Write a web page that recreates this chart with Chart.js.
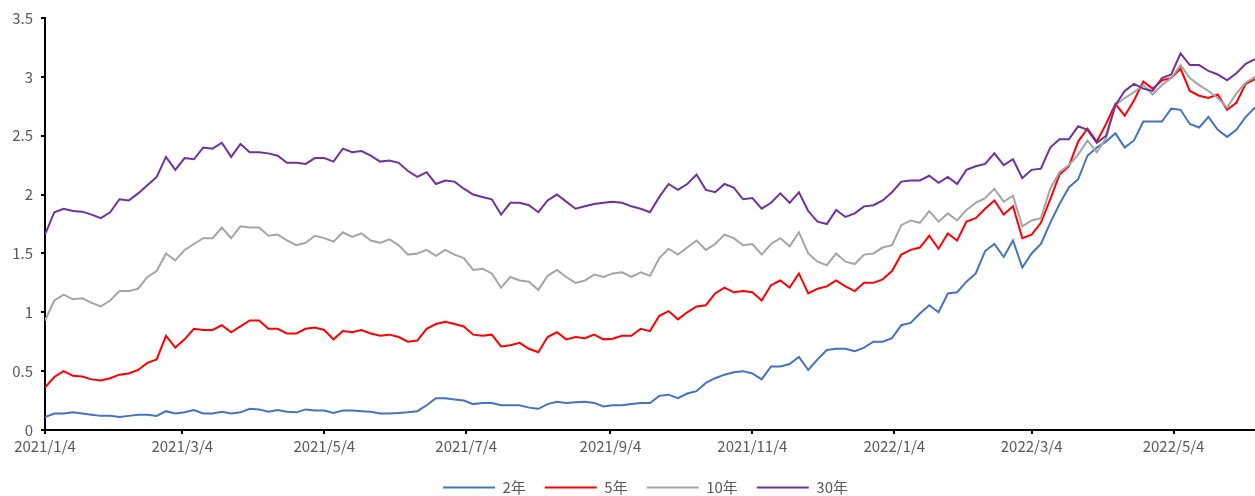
<!DOCTYPE html>
<html>
<head>
<meta charset="utf-8">
<script src="https://cdn.jsdelivr.net/npm/chart.js@4.4.0/dist/chart.umd.min.js"></script>
<style>
  html, body { margin: 0; padding: 0; background: #fff; }
  #wrap { width: 1255px; height: 496px; }
</style>
</head>
<body>
<div id="wrap"><canvas id="chart"></canvas></div>
<script>
// readings taken every 4 calendar days starting 2021/1/4
const startDate = '2021/1/4';
const endDate = '2022/6/8';
const stepDays = 4;

const seriesNames = ['2年', '5年', '10年', '30年'];
const seriesColors = ['#4472C4', '#FF0000', '#A5A5A5', '#7030A0'];

const y2 = [
  0.11, 0.14, 0.14, 0.15, 0.14, 0.13, 0.12, 0.12, 0.11, 0.12, 0.13, 0.13, 0.12, 0.16, 0.14, 0.15, 0.17, 0.14, 0.14, 0.155, 0.14, 0.15, 0.18,
  0.175, 0.155, 0.17, 0.155, 0.15, 0.175, 0.165, 0.165, 0.145, 0.165, 0.165, 0.16, 0.155, 0.14, 0.14, 0.145, 0.15, 0.16, 0.21, 0.27, 0.27, 0.26,
  0.25, 0.22, 0.23, 0.23, 0.21, 0.21, 0.21, 0.19, 0.18, 0.22, 0.24, 0.23, 0.235, 0.24, 0.23, 0.20, 0.21, 0.21, 0.22, 0.23, 0.23,
  0.29, 0.30, 0.27, 0.31, 0.33, 0.40, 0.44, 0.47, 0.49, 0.50, 0.48, 0.43, 0.54, 0.54, 0.56, 0.62, 0.51, 0.60, 0.68, 0.69, 0.69, 0.67, 0.70,
  0.75, 0.75, 0.78, 0.89, 0.91, 0.99, 1.06, 1.00, 1.16, 1.17, 1.26, 1.33, 1.52, 1.58, 1.47, 1.61, 1.38, 1.50, 1.58, 1.76, 1.92, 2.06,
  2.13, 2.33, 2.40, 2.45, 2.52, 2.40, 2.46, 2.62, 2.62, 2.62, 2.73, 2.72, 2.60, 2.57, 2.66, 2.55, 2.49, 2.55, 2.66, 2.74
];
const y5 = [
  0.36, 0.45, 0.50, 0.46, 0.455, 0.43, 0.42, 0.44, 0.47, 0.48, 0.51, 0.57, 0.60, 0.80, 0.70, 0.77, 0.86, 0.85, 0.85, 0.89, 0.83, 0.88, 0.93,
  0.93, 0.86, 0.86, 0.82, 0.82, 0.86, 0.87, 0.85, 0.77, 0.84, 0.83, 0.85, 0.82, 0.80, 0.81, 0.79, 0.75, 0.76, 0.86, 0.90, 0.92, 0.90,
  0.88, 0.81, 0.80, 0.81, 0.71, 0.72, 0.74, 0.69, 0.66, 0.79, 0.83, 0.77, 0.79, 0.78, 0.81, 0.77, 0.775, 0.80, 0.80, 0.86, 0.84,
  0.97, 1.01, 0.94, 1.00, 1.05, 1.06, 1.16, 1.21, 1.17, 1.18, 1.17, 1.10, 1.23, 1.27, 1.21, 1.33, 1.16, 1.20, 1.22, 1.27, 1.22, 1.18, 1.25,
  1.25, 1.28, 1.35, 1.49, 1.53, 1.55, 1.65, 1.54, 1.67, 1.61, 1.77, 1.80, 1.88, 1.95, 1.83, 1.90, 1.63, 1.66, 1.76, 1.96, 2.17, 2.24,
  2.45, 2.56, 2.45, 2.60, 2.77, 2.67, 2.80, 2.96, 2.90, 2.97, 2.99, 3.07, 2.88, 2.84, 2.82, 2.85, 2.72, 2.78, 2.94, 2.98
];
const y10 = [
  0.93, 1.10, 1.15, 1.11, 1.12, 1.08, 1.05, 1.10, 1.18, 1.18, 1.20, 1.30, 1.35, 1.50, 1.44, 1.53, 1.58, 1.63, 1.63, 1.72, 1.63, 1.73, 1.72,
  1.72, 1.65, 1.66, 1.61, 1.57, 1.59, 1.65, 1.63, 1.60, 1.68, 1.64, 1.67, 1.61, 1.59, 1.62, 1.57, 1.49, 1.50, 1.53, 1.48, 1.53, 1.49,
  1.46, 1.36, 1.37, 1.33, 1.21, 1.30, 1.27, 1.26, 1.19, 1.31, 1.36, 1.30, 1.25, 1.27, 1.32, 1.30, 1.33, 1.34, 1.30, 1.34, 1.31,
  1.46, 1.54, 1.49, 1.55, 1.61, 1.53, 1.58, 1.66, 1.63, 1.57, 1.58, 1.49, 1.58, 1.63, 1.56, 1.68, 1.50, 1.43, 1.40, 1.50, 1.43, 1.41, 1.49,
  1.50, 1.55, 1.57, 1.74, 1.78, 1.76, 1.86, 1.77, 1.84, 1.78, 1.87, 1.93, 1.97, 2.05, 1.94, 1.99, 1.73, 1.78, 1.80, 2.05, 2.19, 2.25,
  2.34, 2.46, 2.36, 2.48, 2.76, 2.82, 2.87, 2.93, 2.85, 2.93, 2.99, 3.10, 2.99, 2.93, 2.88, 2.82, 2.74, 2.86, 2.95, 3.00
];
const y30 = [
  1.66, 1.85, 1.88, 1.86, 1.855, 1.83, 1.80, 1.85, 1.96, 1.95, 2.01, 2.08, 2.15, 2.32, 2.21, 2.31, 2.30, 2.40, 2.39, 2.44, 2.32, 2.43, 2.36,
  2.36, 2.35, 2.33, 2.27, 2.27, 2.26, 2.31, 2.31, 2.28, 2.39, 2.36, 2.37, 2.33, 2.28, 2.29, 2.27, 2.20, 2.15, 2.19, 2.09, 2.12, 2.11,
  2.05, 2.00, 1.98, 1.96, 1.83, 1.93, 1.93, 1.91, 1.85, 1.95, 2.00, 1.94, 1.88, 1.90, 1.92, 1.93, 1.94, 1.93, 1.90, 1.88, 1.85,
  1.98, 2.09, 2.04, 2.09, 2.17, 2.04, 2.02, 2.09, 2.06, 1.96, 1.97, 1.88, 1.93, 2.01, 1.93, 2.02, 1.86, 1.77, 1.75, 1.87, 1.81, 1.84, 1.90,
  1.91, 1.95, 2.02, 2.11, 2.12, 2.12, 2.16, 2.10, 2.15, 2.09, 2.21, 2.24, 2.26, 2.35, 2.25, 2.30, 2.14, 2.21, 2.22, 2.40, 2.47, 2.47,
  2.58, 2.55, 2.44, 2.50, 2.76, 2.88, 2.94, 2.90, 2.88, 2.99, 3.02, 3.20, 3.10, 3.10, 3.05, 3.02, 2.97, 3.03, 3.11, 3.15
];

const tickLabels = ['2021/1/4', '2021/3/4', '2021/5/4', '2021/7/4', '2021/9/4',
  '2021/11/4', '2022/1/4', '2022/3/4', '2022/5/4'];

function dayOf(label) {
  const [y, m, d] = label.split('/').map(Number);
  const [y0, m0, d0] = startDate.split('/').map(Number);
  return Math.round((Date.UTC(y, m - 1, d) - Date.UTC(y0, m0 - 1, d0)) / 86400000);
}
const tickDays = tickLabels.map(dayOf);

const allSeries = [y2, y5, y10, y30];
const datasets = allSeries.map((vals, k) => ({
  label: seriesNames[k],
  data: vals.map((v, i) => ({ x: i * stepDays, y: v })),
  borderColor: seriesColors[k],
  backgroundColor: seriesColors[k],
  borderWidth: 2,
  pointRadius: 0,
  tension: 0,
  order: allSeries.length - k
}));

const font = { family: '"Noto Sans CJK SC", "Noto Sans", sans-serif', size: 15 };

// nudge the legend row right so it sits centred like the original
const legendShift = {
  id: 'legendShift',
  afterLayout(chart) {
    if (chart.legend) chart.legend.left = 36;
  }
};

new Chart(document.getElementById('chart'), {
  type: 'line',
  data: { datasets: datasets },
  plugins: [legendShift],
  options: {
    responsive: true,
    maintainAspectRatio: false,
    animation: false,
    devicePixelRatio: 1,
    layout: { padding: { top: 18, left: 0, right: 0, bottom: 0 } },
    plugins: {
      tooltip: { enabled: false },
      legend: {
        position: 'bottom',
        maxHeight: 35,
        labels: {
          usePointStyle: true,
          pointStyle: 'line',
          pointStyleWidth: 52,
          padding: 19,
          color: '#595959',
          font: font,
          sort: (a, b) => a.datasetIndex - b.datasetIndex
        }
      }
    },
    scales: {
      x: {
        type: 'linear',
        min: 0,
        max: dayOf(endDate),
        afterBuildTicks: (scale) => { scale.ticks = tickDays.map(v => ({ value: v })); },
        afterFit: (scale) => { scale.height = 31; },
        ticks: {
          autoSkip: false,
          maxRotation: 0,
          padding: 3,
          color: '#595959',
          font: font,
          callback: (v) => tickLabels[tickDays.indexOf(v)]
        },
        grid: { drawOnChartArea: false, drawTicks: true, tickLength: 4, color: '#000', lineWidth: 2 },
        border: { color: '#000', width: 2 }
      },
      y: {
        min: 0,
        max: 3.5,
        afterFit: (scale) => { scale.width = 45; },
        ticks: {
          stepSize: 0.5,
          padding: 8,
          color: '#595959',
          font: font,
          callback: (v) => String(v)
        },
        grid: { drawOnChartArea: false, drawTicks: true, tickLength: 4, color: '#000', lineWidth: 2 },
        border: { color: '#000', width: 2 }
      }
    }
  }
});
</script>
</body>
</html>
